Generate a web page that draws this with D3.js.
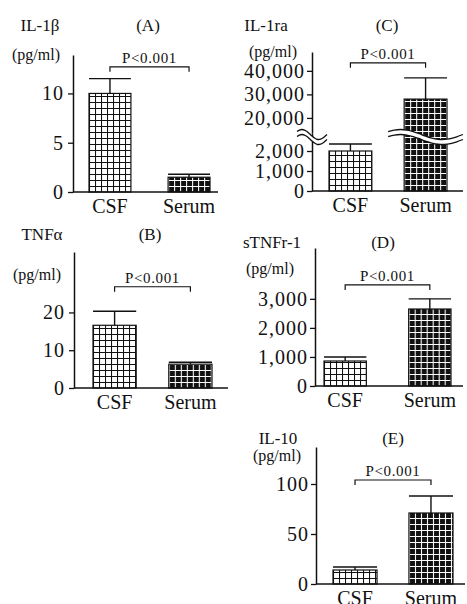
<!DOCTYPE html>
<html>
<head>
<meta charset="utf-8">
<script src="https://cdn.jsdelivr.net/npm/d3@7"></script>
<style>
  body { margin: 0; background: #fff; }
  svg { display: block; font-family: "Liberation Serif", "Times New Roman", serif; }
</style>
</head>
<body>
<div id="chart"></div>
<script>
// data
const groups = ["CSF", "Serum"];
const panelLetters = ["(A)", "(B)", "(C)", "(D)", "(E)"];
const analytes = ["IL-1β", "TNFα", "IL-1ra", "sTNFr-1", "IL-10"];
const unitLabel = "(pg/ml)";
const pLabel = "P<0.001";
const means = [[10.0, 1.5], [16.6, 6.3], [2000, 28000], [860, 2650], [14, 71]];
const errTops = [[11.5, 1.8], [20.3, 6.8], [2350, 37000], [1000, 3000], [17, 88]];
const bracketAt = [12.7, 26.8, 43400, 3480, 104];
const yTicks = [[0, 5, 10], [0, 10, 20], [0, 1000, 2000, 20000, 30000, 40000], [0, 1000, 2000, 3000], [0, 50, 100]];
const yMax = [13.9, 36, 48000, 4750, 137];
const breakIL1ra = [2900, 13600]; // axis is broken between these values

// layout of each panel (pixels)
const layout = [
    { ax: 73,  y0: 192, yTop: 55,  band: [89, 210],  pad: 0.47, xEnd: 218, tx: 40,  ty: 31,  ux: 36,  uy: 60,  lx: 148 },
    { ax: 74,  y0: 388, yTop: 252, band: [93, 212],  pad: 0.43, xEnd: 228, tx: 42,  ty: 240, ux: 37,  uy: 280, lx: 150 },
    { ax: 312, y0: 191, yTop: 52,  band: [329, 447], pad: 0.43, xEnd: 463, tx: 266, ty: 31,  ux: 273, uy: 57,  lx: 387, yBreak: 133 },
    { ax: 315, y0: 386, yTop: 248, band: [324, 451], pad: 0.5,  xEnd: 463, tx: 272, ty: 248, ux: 270, uy: 274, lx: 383 },
    { ax: 316, y0: 584, yTop: 447, band: [333, 453], pad: 0.42, xEnd: 465, tx: 278, ty: 444, ux: 277, uy: 461, lx: 393 }
];

const width = 467, height = 604;
const ink = '#111';
const serif = '"Liberation Serif", "Times New Roman", serif';

const svg = d3.select('#chart').append('svg')
    .attr('width', width)
    .attr('height', height);
const defs = svg.append('defs');

// wavy break line
const waveLine = d3.line().curve(d3.curveNatural);
function wavePoints(x0, x1, yb, shift) {
    const pts = [];
    for (let k = 0; k <= 12; k++) {
        const u = k / 12;
        pts.push([x0 + u * (x1 - x0), yb + 1.5 + shift - 5 * Math.sin(2 * Math.PI * (u * 0.9 + 0.1))]);
    }
    return pts;
}
function drawBreak(g, x0, x1, yb) {
    const top = wavePoints(x0, x1, yb, 0);
    const bot = wavePoints(x0, x1, yb, 5);
    g.append('path')
        .attr('d', waveLine(top.concat(bot.slice().reverse())) + 'Z')
        .attr('fill', '#fff')
        .attr('stroke', 'none');
    [top, bot].forEach(p => g.append('path')
        .attr('d', waveLine(p))
        .attr('fill', 'none')
        .attr('stroke', ink)
        .attr('stroke-width', 1.3));
}

function styleAxis(g) {
    g.attr('font-family', serif);
    g.select('.domain').attr('stroke', ink).attr('stroke-width', 1.5);
    g.selectAll('.tick line').attr('stroke', ink).attr('stroke-width', 1.3);
    g.selectAll('.tick text')
        .attr('fill', ink)
        .style('font-family', serif)
        .style('font-size', '20px')
        .style('letter-spacing', '1px');
}

analytes.forEach((name, i) => {
    const L = layout[i];
    const g = svg.append('g').attr('class', 'panel');

    // y scale (panel C has a broken axis)
    let y;
    if (i === 2) {
        const lower = d3.scaleLinear().domain([0, breakIL1ra[0]]).range([L.y0, L.yBreak]);
        const upper = d3.scaleLinear().domain([breakIL1ra[1], yMax[i]]).range([L.yBreak, L.yTop]);
        y = v => v <= breakIL1ra[0] ? lower(v) : upper(v);
        [[lower, yTicks[i].filter(t => t <= breakIL1ra[0])], [upper, yTicks[i].filter(t => t > breakIL1ra[0])]]
            .forEach(([s, t]) => {
                g.append('g')
                    .attr('transform', `translate(${L.ax},0)`)
                    .call(d3.axisLeft(s).tickValues(t).tickFormat(d3.format(',')).tickSize(5).tickSizeOuter(0).tickPadding(2))
                    .call(styleAxis);
            });
    } else {
        y = d3.scaleLinear().domain([0, yMax[i]]).range([L.y0, L.yTop]);
        g.append('g')
            .attr('transform', `translate(${L.ax},0)`)
            .call(d3.axisLeft(y).tickValues(yTicks[i]).tickFormat(d3.format(',')).tickSize(5).tickSizeOuter(0).tickPadding(i < 2 ? 4 : 2))
            .call(styleAxis);
    }

    const x = d3.scaleBand().domain(groups).range(L.band).paddingInner(L.pad).paddingOuter(0);
    const bw = x.bandwidth();

    // hatch patterns
    groups.forEach((grp, j) => {
        const p = defs.append('pattern')
            .attr('id', `pat${i}${j}`)
            .attr('patternUnits', 'userSpaceOnUse')
            .attr('x', x(grp))
            .attr('y', L.y0)
            .attr('width', 6)
            .attr('height', 6);
        p.append('rect').attr('width', 6).attr('height', 6).attr('fill', j === 0 ? '#fff' : ink);
        p.append('path')
            .attr('d', 'M0,0.5H6M0.5,0V6')
            .attr('stroke', j === 0 ? ink : '#fff')
            .attr('stroke-width', j === 0 ? 1.1 : 1.1);
    });

    // bars
    g.selectAll('rect.bar')
        .data(groups)
        .join('rect')
        .attr('class', 'bar')
        .attr('x', d => x(d))
        .attr('y', (d, j) => y(means[i][j]))
        .attr('width', bw)
        .attr('height', (d, j) => L.y0 - y(means[i][j]))
        .attr('fill', (d, j) => `url(#pat${i}${j})`)
        .attr('stroke', ink)
        .attr('stroke-width', 1.2);

    // error bars: stem + cap across bar width
    groups.forEach((grp, j) => {
        const cx = x(grp) + bw / 2;
        g.append('line')
            .attr('x1', cx).attr('x2', cx)
            .attr('y1', y(means[i][j])).attr('y2', y(errTops[i][j]))
            .attr('stroke', ink).attr('stroke-width', 1.4);
        g.append('line')
            .attr('x1', x(grp)).attr('x2', x(grp) + bw)
            .attr('y1', y(errTops[i][j])).attr('y2', y(errTops[i][j]))
            .attr('stroke', ink).attr('stroke-width', 1.4);
    });

    // x axis baseline
    g.append('line')
        .attr('x1', L.ax).attr('x2', L.xEnd)
        .attr('y1', L.y0).attr('y2', L.y0)
        .attr('stroke', ink).attr('stroke-width', 1.5);

    // category labels
    g.selectAll('text.cat')
        .data(groups)
        .join('text')
        .attr('class', 'cat')
        .attr('x', d => x(d) + bw / 2)
        .attr('y', L.y0 + 21)
        .attr('text-anchor', 'middle')
        .attr('fill', ink)
        .style('font-size', '20px')
        .text(d => d);

    // axis break for IL-1ra
    if (i === 2) {
        drawBreak(g, L.ax - 15, L.ax + 15, L.yBreak);
        drawBreak(g, x('Serum') - 16, x('Serum') + bw + 16, L.yBreak);
    }

    // significance bracket
    const bx1 = x(groups[0]) + bw / 2, bx2 = x(groups[1]) + bw / 2, by = y(bracketAt[i]);
    g.append('path')
        .attr('d', `M${bx1},${by + 5}V${by}H${bx2}V${by + 5}`)
        .attr('fill', 'none')
        .attr('stroke', ink)
        .attr('stroke-width', 1.2);
    g.append('text')
        .attr('x', (bx1 + bx2) / 2)
        .attr('y', by - 4)
        .attr('text-anchor', 'middle')
        .attr('fill', ink)
        .style('font-size', '15px')
        .style('letter-spacing', '0.6px')
        .text(pLabel);

    // titles
    g.append('text')
        .attr('x', L.tx).attr('y', L.ty)
        .attr('text-anchor', 'middle')
        .attr('fill', ink)
        .style('font-size', '17px')
        .text(name);
    g.append('text')
        .attr('x', L.ux).attr('y', L.uy)
        .attr('text-anchor', 'middle')
        .attr('fill', ink)
        .style('font-size', '16px')
        .text(unitLabel);
    g.append('text')
        .attr('x', L.lx).attr('y', L.ty)
        .attr('text-anchor', 'middle')
        .attr('fill', ink)
        .style('font-size', '17px')
        .text(panelLetters[i]);
});
</script>
</body>
</html>
